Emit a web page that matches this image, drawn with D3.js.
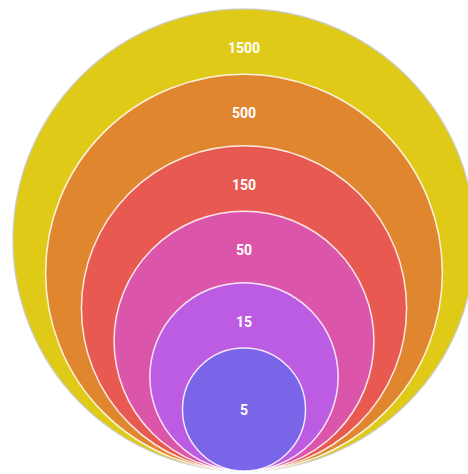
<!DOCTYPE html>
<html>
<head>
<meta charset="utf-8">
<script src="https://cdn.jsdelivr.net/npm/d3@7"></script>
<style>
  html, body { margin: 0; padding: 0; background: #fff; overflow: hidden; }
  text { font-family: Roboto, "Noto Sans", sans-serif; }
</style>
</head>
<body>
<div id="chart"></div>
<script>
const values = [1500, 500, 150, 50, 15, 5];
const labels = ['1500', '500', '150', '50', '15', '5'];
const colors = ['#dfcb17', '#e0862f', '#e85951', '#db56aa', '#bc5ce3', '#7a65e8'];

const width = 468;
const height = 474;
const cx = 244;
const bottom = 471;

const svg = d3.select('#chart').append('svg')
    .attr('width', width)
    .attr('height', height);

// radius on a log scale so each step gets a similar ring
const rScale = d3.scaleLog()
    .domain([5, 1500])
    .range([61.5, 231]);

const data = values.map((v, i) => ({ value: v, label: labels[i], color: colors[i], r: rScale(v) }));

const groups = svg.selectAll('g.bubble')
    .data(data)
    .enter()
    .append('g')
    .attr('class', 'bubble');

groups.append('circle')
    .attr('cx', cx)
    .attr('cy', d => bottom - d.r)
    .attr('r', d => d.r)
    .attr('fill', d => d.color)
    .attr('stroke', (d, i) => i === 0 ? 'rgba(200,200,200,0.8)' : 'rgba(255,255,255,0.85)')
    .attr('stroke-width', 1.5);

groups.append('text')
    .attr('x', cx)
    .attr('y', (d, i) => i === data.length - 1 ? bottom - d.r : bottom - 2 * d.r + 39)
    .attr('text-anchor', 'middle')
    .attr('dominant-baseline', 'central')
    .attr('fill', '#fff')
    .attr('font-size', 14)
    .attr('font-weight', 'bold')
    .text(d => d.label);
</script>
</body>
</html>
